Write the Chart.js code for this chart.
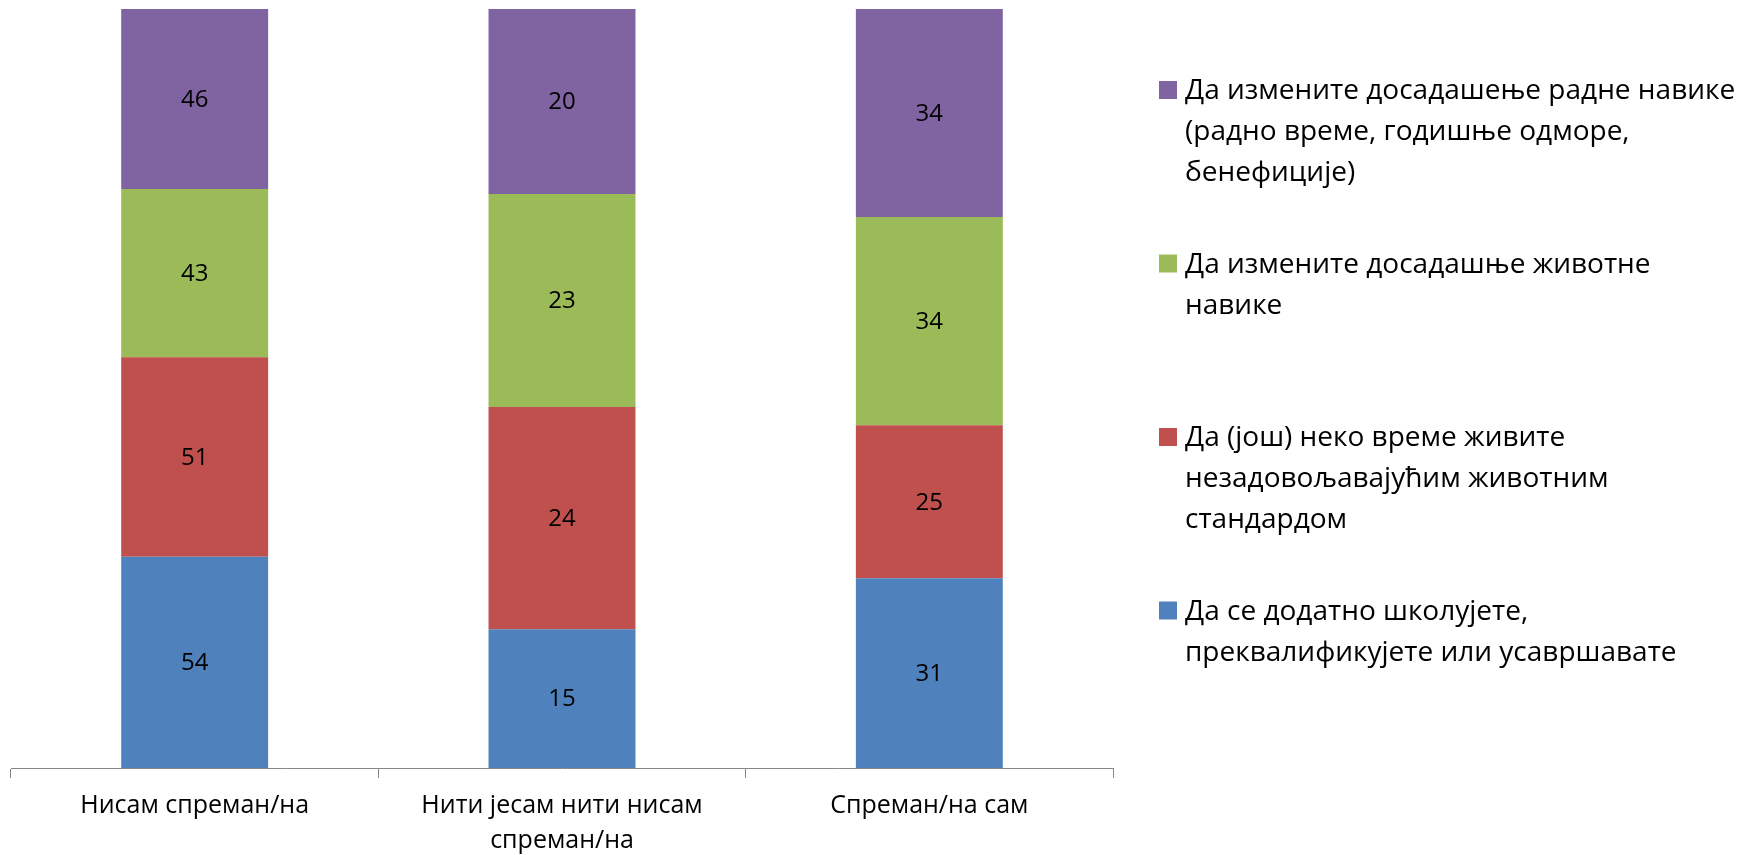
<!DOCTYPE html>
<html lang="sr">
<head>
  <meta charset="UTF-8">
  <title>Спремност на промене</title>
  <script src="https://cdn.jsdelivr.net/npm/chart.js"></script>
  <style>
    html, body { margin: 0; padding: 0; background: #fff; }
    #wrap { width: 1750px; height: 855px; position: relative; }
  </style>
</head>
<body>
  <div id="wrap"><canvas id="chart"></canvas></div>

  <script>
    // Категорије на x оси
    const categories = ['Нисам спреман/на', ['Нити јесам нити нисам', 'спреман/на'], 'Спреман/на сам'];

    // Серије (од дна ка врху)
    const seriesNames = [
      ['Да се додатно школујете,', 'преквалификујете или усавршавате'],
      ['Да (још) неко време живите', 'незадовољавајућим животним', 'стандардом'],
      ['Да измените досадашње животне', 'навике'],
      ['Да измените досадашење радне навике', '(радно време, годишње одморе,', 'бенефиције)']
    ];
    const schooling = [54, 15, 31];
    const livingStandard = [51, 24, 25];
    const lifeHabits = [43, 23, 34];
    const workHabits = [46, 20, 34];
    const seriesColors = ['#4F81BD', '#C0504D', '#9BBB59', '#8064A2'];

    const FONT = '"Open Sans", "Noto Sans", sans-serif';
    const allSeries = [schooling, livingStandard, lifeHabits, workHabits];

    // 100% наслагани стубићи: удео у збиру категорије
    const totals = categories.map((c, i) => allSeries.reduce((s, arr) => s + arr[i], 0));
    const datasets = allSeries.map((arr, k) => ({
      label: seriesNames[k].join(' '),
      data: arr.map((v, i) => v / totals[i] * 100),
      raw: arr,
      backgroundColor: seriesColors[k],
      borderWidth: 0,
      barPercentage: 0.4,
      categoryPercentage: 1.0
    }));

    // Вредности у средини сваког сегмента
    const valueLabels = {
      id: 'valueLabels',
      afterDatasetsDraw(chart) {
        const ctx = chart.ctx;
        ctx.save();
        ctx.font = '24px ' + FONT;
        ctx.fillStyle = '#000';
        ctx.textAlign = 'center';
        ctx.textBaseline = 'middle';
        chart.data.datasets.forEach((ds, k) => {
          chart.getDatasetMeta(k).data.forEach((bar, i) => {
            ctx.fillText(ds.raw[i], bar.x, (bar.y + bar.base) / 2 + 1);
          });
        });
        ctx.restore();
      }
    };

    // Легенда десно, обрнутим редом, са текстом у више редова
    const sideLegend = {
      id: 'sideLegend',
      afterDraw(chart) {
        const ctx = chart.ctx;
        const x0 = 1159, textX = 1185, firstBase = 99, step = 173.5, lineH = 41;
        ctx.save();
        ctx.font = '28px ' + FONT;
        ctx.textAlign = 'left';
        ctx.textBaseline = 'alphabetic';
        const n = chart.data.datasets.length;
        for (let j = 0; j < n; j++) {
          const k = n - 1 - j;
          const base = firstBase + j * step;
          ctx.fillStyle = seriesColors[k];
          ctx.fillRect(x0, base - 18, 18, 18);
          ctx.fillStyle = '#000';
          seriesNames[k].forEach((line, l) => ctx.fillText(line, textX, base + l * lineH));
        }
        ctx.restore();
      }
    };

    new Chart(document.getElementById('chart'), {
      type: 'bar',
      data: { labels: categories, datasets: datasets },
      options: {
        responsive: true,
        maintainAspectRatio: false,
        animation: false,
        layout: { padding: { top: 9, left: 11, right: 637, bottom: 0 } },
        plugins: { legend: { display: false }, tooltip: { enabled: false } },
        scales: {
          x: {
            stacked: true,
            afterFit(scale) { scale.height = 87; },
            grid: {
              display: true,
              offset: true,
              drawOnChartArea: false,
              drawTicks: true,
              tickLength: 10,
              color: '#868686'
            },
            border: { display: true, color: '#868686', width: 1 },
            ticks: {
              color: '#000',
              font: { family: FONT, size: 25, lineHeight: 1.4 },
              padding: 10,
              maxRotation: 0,
              autoSkip: false
            }
          },
          y: {
            stacked: true,
            display: false,
            min: 0,
            max: 100
          }
        }
      },
      plugins: [valueLabels, sideLegend]
    });
  </script>
</body>
</html>
